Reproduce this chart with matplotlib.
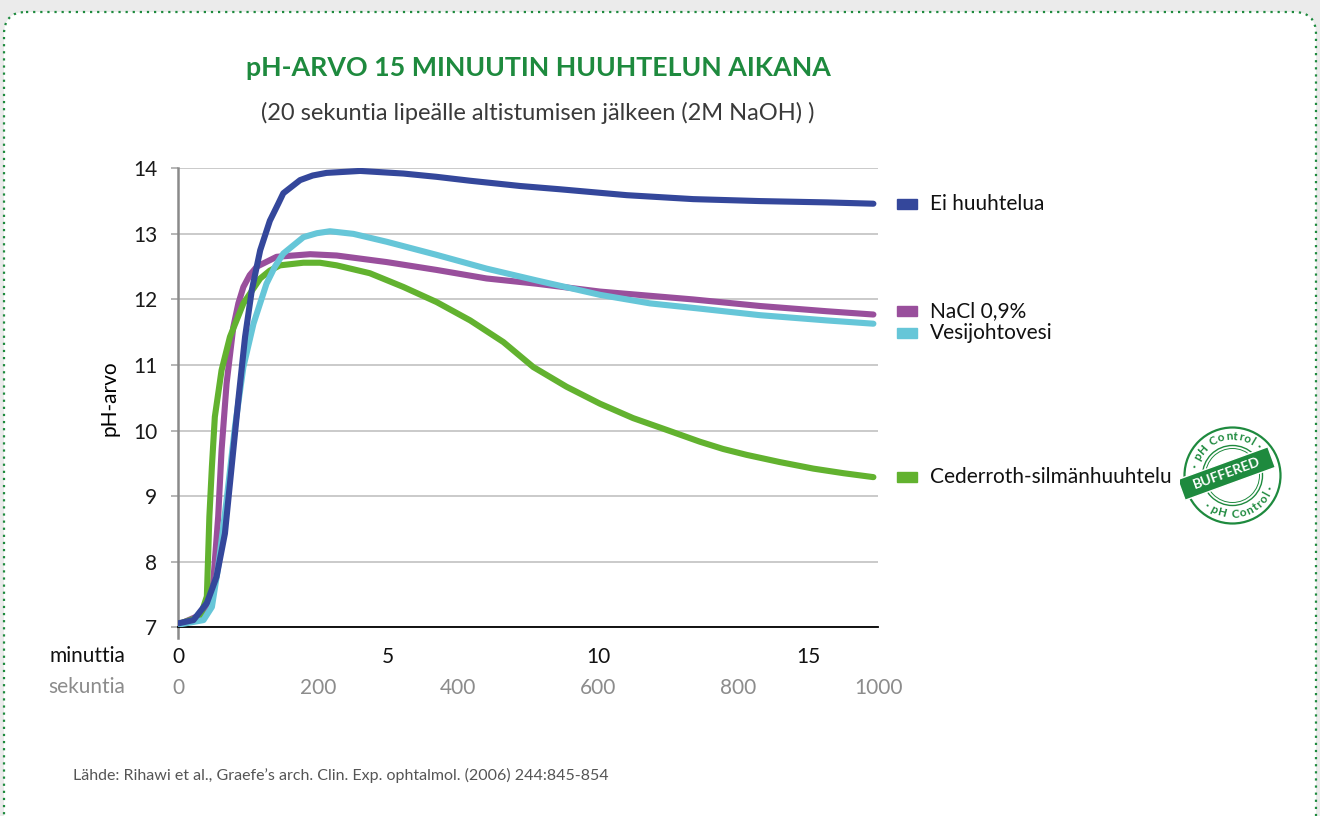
import numpy as np
import matplotlib.pyplot as plt
from matplotlib.patches import FancyBboxPatch, Rectangle, Circle

plt.rcParams['font.family'] = ['Lato', 'DejaVu Sans']

# Data (aika minuutteina, pH-arvo)
t_ei = [0, 0.36, 0.68, 0.91, 1.11, 1.27, 1.43, 1.59, 1.75, 1.95, 2.18, 2.38, 2.5, 2.9, 3.2, 3.53,
        4.33, 5.36, 6.15, 6.95, 8.14, 9.09, 10.68, 12.26, 13.85, 15.44, 16.55]
ph_ei = [7.06, 7.11, 7.37, 7.77, 8.43, 9.45, 10.47, 11.43, 12.14, 12.75, 13.2, 13.46, 13.62, 13.82, 13.89, 13.93,
         13.96, 13.92, 13.87, 13.81, 13.73, 13.68, 13.59, 13.53, 13.50, 13.48, 13.46]

t_nacl = [0, 0.6, 0.83, 0.95, 1.03, 1.15, 1.31, 1.43, 1.55, 1.7, 1.87, 2.34, 3.14, 3.77, 4.96, 6.15,
          7.34, 8.53, 10.04, 12.26, 13.85, 15.44, 16.55]
ph_nacl = [7.04, 7.21, 7.67, 8.69, 9.70, 10.72, 11.58, 11.94, 12.19, 12.37, 12.50, 12.65, 12.69, 12.67, 12.57, 12.45,
           12.32, 12.24, 12.12, 12.0, 11.90, 11.82, 11.77]

t_vesi = [0, 0.6, 0.8, 0.95, 1.15, 1.35, 1.55, 1.79, 2.1, 2.3, 2.5, 2.98, 3.3, 3.61, 4.17, 4.96, 6.15,
          7.34, 8.53, 10.04, 11.23, 12.42, 13.85, 15.44, 16.55]
ph_vesi = [7.04, 7.11, 7.31, 7.92, 8.94, 10.06, 10.97, 11.63, 12.24, 12.5, 12.70, 12.95, 13.01, 13.04, 13.0, 12.88, 12.68,
           12.47, 12.29, 12.07, 11.94, 11.86, 11.76, 11.68, 11.63]

t_ced = [0, 0.52, 0.68, 0.74, 0.8, 0.87, 1.03, 1.23, 1.55, 1.95, 2.18, 2.42, 2.98, 3.37, 3.77, 4.56, 5.36,
         6.15, 6.95, 7.74, 8.45, 9.24, 10.04, 10.83, 11.63, 12.42, 12.97, 13.53, 14.32, 15.12, 15.84, 16.55]
ph_ced = [7.05, 7.16, 7.47, 8.69, 9.45, 10.21, 10.92, 11.43, 11.94, 12.32, 12.44, 12.52, 12.56, 12.56, 12.52, 12.40, 12.19,
          11.96, 11.68, 11.35, 10.97, 10.67, 10.41, 10.19, 10.01, 9.83, 9.72, 9.63, 9.52, 9.42, 9.35, 9.29]

names = ["Ei huuhtelua", "NaCl 0,9%", "Vesijohtovesi", "Cederroth-silmänhuuhtelu"]
colors = ["#34479b", "#994f9c", "#66c6d8", "#62b22f"]
min_ticks = [0, 5, 10, 15]
sec_ticks = [0, 200, 400, 600, 800, 1000]
ph_ticks = [7, 8, 9, 10, 11, 12, 13, 14]

green = "#1e8a3e"

fig = plt.figure(figsize=(13.2, 8.16), dpi=100)
fig.patch.set_facecolor("#ebebeb")

# tausta pikselikoordinaateissa
bg = fig.add_axes([0, 0, 1, 1])
bg.set_xlim(0, 1320)
bg.set_ylim(816, 0)
bg.axis("off")
bg.add_patch(FancyBboxPatch((4, 12), 1312, 830, boxstyle="round,pad=0,rounding_size=22",
                            fc="white", ec=green, lw=1.6, ls=(0, (1, 2.2))))

bg.text(538, 68, "pH-ARVO 15 MINUUTIN HUUHTELUN AIKANA", ha="center", va="center",
        fontsize=19.3, fontweight="bold", color=green)
bg.text(538, 113, "(20 sekuntia lipeälle altistumisen jälkeen (2M NaOH) )", ha="center", va="center",
        fontsize=17, color="#3a3a3a")

# paakuvaaja
ax = fig.add_axes([178.3 / 1320, 1 - 627.3 / 816, 700 / 1320, 459 / 816])
ax.set_facecolor("none")
ax.set_xlim(0, 1000 / 60)
ax.set_ylim(7, 14)

series = [(t_nacl, ph_nacl, colors[1]), (t_ced, ph_ced, colors[3]),
          (t_vesi, ph_vesi, colors[2]), (t_ei, ph_ei, colors[0])]
for i, (t, ph, c) in enumerate(series):
    ax.plot(t, ph, color=c, lw=4.4, solid_capstyle="round", solid_joinstyle="round", zorder=3 + i)

ax.set_yticks(ph_ticks)
ax.set_xticks(min_ticks)
ax.yaxis.grid(True, color="#c6c6c6", lw=1.3)
ax.set_axisbelow(True)
for s in ["top", "right"]:
    ax.spines[s].set_visible(False)
ax.spines["left"].set_color("#8a8a8a")
ax.spines["left"].set_linewidth(1.8)
ax.spines["bottom"].set_color("black")
ax.spines["bottom"].set_linewidth(1.3)
ax.axvline(0, ymin=-0.024, ymax=0, clip_on=False, color="#8a8a8a", lw=1.8)

ax.tick_params(axis="y", length=5, width=1.3, color="#b0b0b0", pad=10, labelsize=15, labelcolor="#1a1a1a")
ax.tick_params(axis="x", length=0, pad=14, labelsize=15, labelcolor="#111111")
ax.set_ylabel("pH-arvo", fontsize=15, labelpad=10)

sec = ax.secondary_xaxis(-31 / 459, functions=(lambda m: m * 60, lambda s: s / 60))
sec.set_xticks(sec_ticks)
sec.tick_params(length=0, pad=14, labelsize=15, labelcolor="#8c8c8c")
sec.spines["bottom"].set_visible(False)

bg.text(125, 662, "minuttia", ha="right", va="baseline", fontsize=15, color="#111111")
bg.text(125, 693, "sekuntia", ha="right", va="baseline", fontsize=15, color="#8c8c8c")

# selitteet
legend_y = [204, 311, 333, 477]
for name, c, y in zip(names, colors, legend_y):
    bg.add_patch(Rectangle((897, y - 5), 20, 10, color=c))
    bg.text(930, y, name, va="center", fontsize=15, color="#111111")

bg.text(73, 775, "Lähde: Rihawi et al., Graefe’s arch. Clin. Exp. ophtalmol. (2006) 244:845-854",
        va="center", fontsize=11.5, color="#555555")

# BUFFERED-leima
bax = fig.add_axes([1180 / 1320, 1 - 528 / 816, 105 / 1320, 105 / 816])
bax.set_xlim(-52.5, 52.5)
bax.set_ylim(-52.5, 52.5)
bax.axis("off")
bax.add_patch(Circle((0, 0), 48, fill=False, ec=green, lw=1.6))
bax.add_patch(Circle((0, 0), 30, fill=False, ec=green, lw=1.0))
bax.add_patch(Circle((0, 0), 27, fill=False, ec=green, lw=0.7))
bax.add_patch(Rectangle((-54, -9), 96, 22, angle=20, rotation_point="center",
                        fc=green, ec="white", lw=1.0, zorder=3))
bax.text(-6, 2, "BUFFERED", rotation=20, ha="center", va="center", rotation_mode="anchor",
         color="white", fontweight="bold", fontsize=10, zorder=4)

char_w = {"·": 0.5, " ": 0.45, "l": 0.45, "t": 0.6, "r": 0.7, "H": 1.25, "C": 1.1}


def arc_text(s, center, r, deg_per_unit, top):
    w = np.array([char_w.get(ch, 1.0) for ch in s])
    pos = np.cumsum(w) - w / 2 - w.sum() / 2
    for ch, p in zip(s, pos):
        if top:
            a = center - p * deg_per_unit
            rot = a - 90
        else:
            a = center + p * deg_per_unit
            rot = a + 90
        bax.text(r * np.cos(np.radians(a)), r * np.sin(np.radians(a)), ch, rotation=rot,
                 rotation_mode="anchor", ha="center", va="center", fontsize=8.5,
                 fontweight="bold", color=green)


arc_text("· pH Control ·", 107, 39, 11.8, True)
arc_text("· pH Control ·", -75, 39, 11.4, False)

plt.savefig("out.png", dpi=100, facecolor=fig.get_facecolor())
plt.close()
